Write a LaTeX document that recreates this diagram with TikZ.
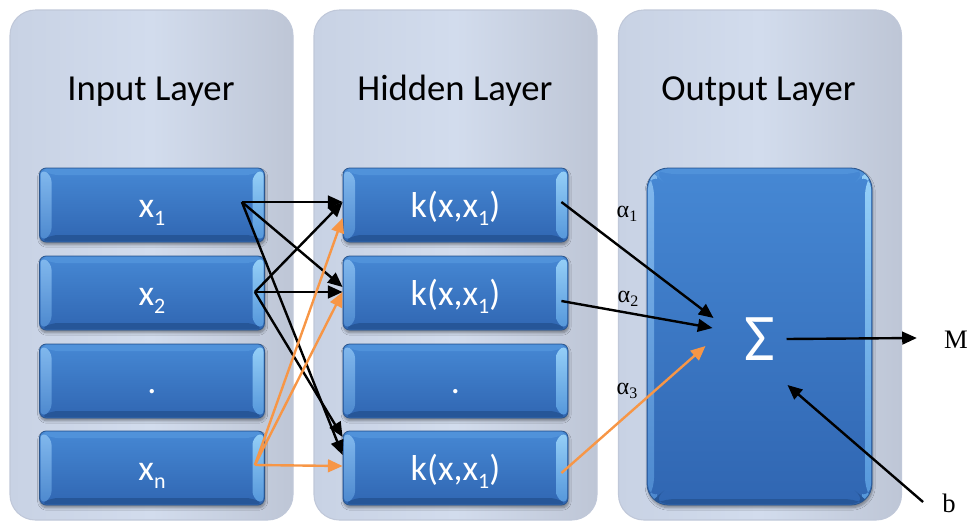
\documentclass[tikz,border=0pt]{standalone}
\usepackage{fontspec}
\setmainfont{Carlito}
\newfontfamily\seriffont{Liberation Serif}
\usetikzlibrary{arrows.meta,shadows.blur,calc}

\definecolor{panelL}{RGB}{200,210,228}
\definecolor{panelM}{RGB}{210,220,237}
\definecolor{panelR}{RGB}{190,198,214}
\definecolor{panelEdge}{RGB}{192,200,217}
\definecolor{boxtop}{RGB}{70,136,212}
\definecolor{boxbot}{RGB}{48,102,178}
\definecolor{boxedge}{RGB}{42,86,142}
\definecolor{bevLtop}{RGB}{130,185,238}
\definecolor{bevLbot}{RGB}{76,136,206}
\definecolor{bevRtop}{RGB}{150,208,248}
\definecolor{bevRbot}{RGB}{84,150,218}
\definecolor{bevT}{RGB}{80,146,218}
\definecolor{bevB}{RGB}{38,86,152}
\definecolor{linkorange}{RGB}{247,150,70}

% lowered subscript in the box labels
\newcommand\sub[1]{\raisebox{-6pt}{\fontsize{16.5}{18}\selectfont #1}}
% small subscript for the weights
\newcommand\wsub[1]{\raisebox{-3pt}{\fontsize{12}{14}\selectfont #1}}

\pgfkeys{/tikz/bevelx/.store in=\bevx, /tikz/bevely/.store in=\bevy, /tikz/bevelx=12, /tikz/bevely=7}

\tikzset{
  panel/.style={rectangle, rounded corners=19pt, draw=panelEdge, line width=0.8pt,
    left color=panelL, right color=panelR, middle color=panelM,
    minimum width=212.25pt, minimum height=382.5pt, inner sep=0pt},
  layertitle/.style={anchor=base, font=\fontsize{27.5}{31}\selectfont, text=black},
  bluebox/.style={rectangle, rounded corners=5pt, draw=boxedge, line width=0.6pt,
    top color=boxtop, bottom color=boxbot, text=white,
    font=\fontsize{27}{30}\selectfont, text height=18pt, text depth=0pt,
    minimum width=168.75pt, minimum height=55.5pt, inner sep=0pt,
    blur shadow={shadow blur steps=6, shadow xshift=0.5pt, shadow yshift=-2pt, shadow opacity=40},
    path picture={
      \coordinate (bNW) at (path picture bounding box.north west);
      \coordinate (bNE) at (path picture bounding box.north east);
      \coordinate (bSW) at (path picture bounding box.south west);
      \coordinate (bSE) at (path picture bounding box.south east);
      \fill[bevT] ($(bNW)+(1,1)$) -- ($(bNE)+(-1,1)$) -- ($(bNE)+(-\bevx,\bevy)$) -- ($(bNW)+(\bevx,\bevy)$) -- cycle;
      \fill[bevB] ($(bSW)+(1,-1)$) -- ($(bSE)+(-1,-1)$) -- ($(bSE)+(-\bevx,-\bevy)$) -- ($(bSW)+(\bevx,-\bevy)$) -- cycle;
      \shade[top color=bevLtop, bottom color=bevLbot] ($(bNW)+(1,1)$) -- ($(bNW)+(\bevx,\bevy)$) -- ($(bSW)+(\bevx,-\bevy)$) -- ($(bSW)+(1,-1)$) -- cycle;
      \shade[top color=bevRtop, bottom color=bevRbot] ($(bNE)+(-1,1)$) -- ($(bNE)+(-\bevx,\bevy)$) -- ($(bSE)+(-\bevx,-\bevy)$) -- ($(bSE)+(-1,-1)$) -- cycle;
    }},
  conn/.style={line width=1.8pt, draw=black, -{Triangle[length=11pt,width=9.5pt]}},
  oconn/.style={conn, draw=linkorange, -{Triangle[length=11pt,width=9.5pt,fill=linkorange]}},
  weight/.style={font=\seriffont\fontsize{18}{20}\selectfont, text=black, inner sep=0pt},
  outlabel/.style={font=\seriffont\fontsize{20}{22}\selectfont, text=black, inner sep=0pt},
}

\begin{document}
\begin{tikzpicture}[x=0.75pt,y=-0.75pt]
\useasboundingbox (0,0) rectangle (979,529);

% layer panels
\node[panel] (pin)  at (151.5,265) {};
\node[panel] (phid) at (455.5,265) {};
\node[panel] (pout) at (760,265) {};

\node[layertitle] (tin)  at (151,100) {Input Layer};
\node[layertitle] (thid) at (455,100) {Hidden Layer};
\node[layertitle] (tout) at (758.5,100) {Output Layer};

% input units
\node[bluebox] (i1) at (152,205) {x\sub{1}};
\node[bluebox] (i2) at (152,293) {x\sub{2}};
\node[bluebox] (i3) at (152,381) {.};
\node[bluebox] (i4) at (152,468) {x\sub{n}};

% kernel units
\node[bluebox] (h1) at (455.5,205) {k(x,x\sub{1})};
\node[bluebox] (h2) at (455.5,293) {k(x,x\sub{1})};
\node[bluebox] (h3) at (455.5,381) {.};
\node[bluebox] (h4) at (455.5,468) {k(x,x\sub{1})};

% output unit
\node[bluebox, rounded corners=16pt, bevelx=7, bevely=6, minimum height=252.75pt] (out) at (759.5,336.5) {};
\node[text=white, font=\fontsize{50}{54}\selectfont, inner sep=0pt] (sigma) at (759.5,339) {Σ};

% connector end points
\coordinate (s1) at ($(i1.east)+(-23,-3)$);
\coordinate (s2) at ($(i2.east)+(-10,-1)$);
\coordinate (s4) at ($(i4.east)+(-10,-3)$);

\coordinate (e1a) at ($(h1.west)+(0,-3)$);
\coordinate (e1b) at ($(h1.west)+(0,13)$);
\coordinate (e2a) at ($(h2.west)+(0,-6)$);
\coordinate (e2b) at ($(h2.west)+(0,-1)$);
\coordinate (e4a) at ($(h4.west)+(0,-31)$);
\coordinate (e4b) at ($(h4.west)+(0,-13)$);
\coordinate (e4c) at ($(h4.west)+(0,-2)$);

\coordinate (k1) at ($(h1.east)+(-7,-3)$);
\coordinate (k2) at ($(h2.east)+(-7,8)$);
\coordinate (k4) at ($(h4.east)+(-7,5)$);

\coordinate (g1) at ($(sigma)+(-46,-21)$);
\coordinate (g2) at ($(sigma)+(-47,-11)$);
\coordinate (g3) at ($(sigma)+(-54,7)$);
\coordinate (gm) at ($(sigma)+(27,0)$);
\coordinate (gb) at ($(sigma)+(28,46)$);

% input -> hidden
\draw[conn] (s1) -- (e1a);
\draw[conn] (s1) -- (e2a);
\draw[conn] (s1) -- (e4b);
\draw[conn] (s2) -- (e1a);
\draw[conn] (s2) -- (e2b);
\draw[conn] (s2) -- (e4a);
\draw[oconn] (s4) -- (e1b);
\draw[oconn] (s4) -- (e2b);
\draw[oconn] (s4) -- (e4c);

% hidden -> sum
\draw[conn] (k1) -- (g1);
\draw[conn] (k2) -- (g2);
\draw[oconn] (k4) -- (g3);

\node[weight] (a1) at (627,214) {α\wsub{1}};
\node[weight] (a2) at (628,299) {α\wsub{2}};
\node[weight] (a3) at (627,391) {α\wsub{3}};

% output and bias
\node[outlabel] (M) at (956,340) {M};
\node[outlabel] (b) at (949,503) {b};
\coordinate (mt) at ($(M.west)+(-27,-2)$);
\coordinate (bs) at ($(b.west)+(-19,-1)$);
\draw[conn] (gm) -- (mt);
\draw[conn] (bs) -- (gb);
\end{tikzpicture}
\end{document}
